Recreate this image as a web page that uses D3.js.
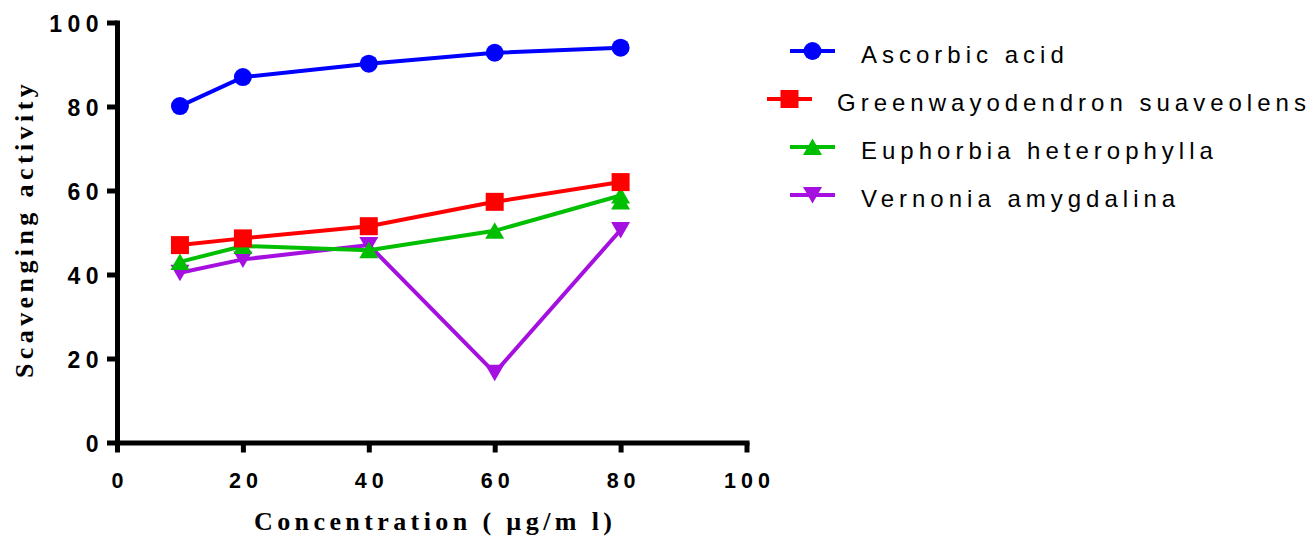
<!DOCTYPE html>
<html>
<head>
<meta charset="utf-8">
<script src="https://cdn.jsdelivr.net/npm/d3@7"></script>
<style>
  body { margin: 0; background: #fff; }
  svg { display: block; }
</style>
</head>
<body>
<svg></svg>
<script>
// data
var concentrations = [10, 20, 40, 60, 80];
var ascorbic  = [80.1, 87.0, 90.2, 92.8, 94.0];
var greenway  = [47.0, 48.6, 51.5, 57.3, 62.0];
var euphorbia = [43.0, 46.8, 45.8, 50.4, 58.8];
var vernonia  = [40.4, 43.6, 47.0, 16.6, 50.6];
// second euphorbia marker visible under the last point
var euphorbiaExtraX = [80];
var euphorbiaExtraY = [57.4];

var seriesNames = ["Ascorbic acid", "Greenwayodendron suaveolens", "Euphorbia heterophylla", "Vernonia amygdalina"];
var xTicks = [0, 20, 40, 60, 80, 100];
var yTicks = [0, 20, 40, 60, 80, 100];

var svgWidth = 1315, svgHeight = 537;
var svg = d3.select("svg").attr("width", svgWidth).attr("height", svgHeight);

var x = d3.scaleLinear().domain([0, 100]).range([117, 746.5]);
var y = d3.scaleLinear().domain([0, 100]).range([442.5, 22.5]);

// marker shapes, centred on their bounding box like the original
var triUp = { draw: function(ctx) { ctx.moveTo(0, -8.5); ctx.lineTo(9.5, 8); ctx.lineTo(-9.5, 8); ctx.closePath(); } };
var triDown = { draw: function(ctx) { ctx.moveTo(0, 8.5); ctx.lineTo(9.5, -8); ctx.lineTo(-9.5, -8); ctx.closePath(); } };
var square = { draw: function(ctx) { ctx.rect(-9, -9, 18, 18); } };
var circle = { draw: function(ctx) { ctx.moveTo(9, 0); ctx.arc(0, 0, 9, 0, 2 * Math.PI); } };

var series = [
  { name: seriesNames[0], values: ascorbic,  color: "#0000ff", shape: circle },
  { name: seriesNames[1], values: greenway,  color: "#ff0000", shape: square },
  { name: seriesNames[2], values: euphorbia, color: "#00bf00", shape: triUp },
  { name: seriesNames[3], values: vernonia,  color: "#a50fe0", shape: triDown }
];

// axes
var yAxis = d3.axisLeft(y).tickValues(yTicks).tickSize(10).tickSizeOuter(0).tickPadding(3);
var xAxis = d3.axisBottom(x).tickValues(xTicks).tickSize(10).tickSizeOuter(0).tickPadding(20);

var gy = svg.append("g").attr("transform", "translate(" + x(0) + ",0)").call(yAxis);
var gx = svg.append("g").attr("transform", "translate(0," + y(0) + ")").call(xAxis);

[gx, gy].forEach(function(g) {
  g.select(".domain").attr("stroke", "#000").attr("stroke-width", 5).attr("stroke-linecap", "square");
  g.selectAll(".tick line").attr("stroke", "#000").attr("stroke-width", 5);
  g.selectAll(".tick text")
    .attr("fill", "#000")
    .style("font-family", "'Liberation Sans', Arial, sans-serif")
    .style("font-weight", "bold");
});
gy.selectAll(".tick text").style("font-size", "23px").style("letter-spacing", "5.5px").attr("dy", "0.4em");
gx.selectAll(".tick text").style("font-size", "21.5px").style("letter-spacing", "5px").attr("dx", "2.5px");

// axis titles
svg.append("text")
  .attr("x", 254).attr("y", 530)
  .style("font-family", "'Liberation Serif', 'Times New Roman', serif")
  .style("font-weight", "bold").style("font-size", "26px").style("letter-spacing", "4.4px")
  .text("Concentration ( \u00b5g/m l)");

svg.append("text")
  .attr("transform", "translate(33,378) rotate(-90)")
  .style("font-family", "'Liberation Serif', 'Times New Roman', serif")
  .style("font-weight", "bold").style("font-size", "26px").style("letter-spacing", "4.4px")
  .text("Scavenging activity");

// lines and markers, first series drawn last so it sits on top
var line = d3.line()
  .x(function(d, i) { return x(concentrations[i]); })
  .y(function(d) { return y(d); });

var plot = svg.append("g");

plot.selectAll(".extra")
  .data(euphorbiaExtraY)
  .enter().append("path")
  .attr("class", "extra")
  .attr("d", d3.symbol().type(triUp))
  .attr("transform", function(d, i) { return "translate(" + x(euphorbiaExtraX[i]) + "," + y(d) + ")"; })
  .attr("fill", series[2].color);

series.slice().reverse().forEach(function(s) {
  var g = plot.append("g");
  g.append("path")
    .attr("d", line(s.values))
    .attr("fill", "none")
    .attr("stroke", s.color)
    .attr("stroke-width", 4);
  g.selectAll("path.pt")
    .data(s.values)
    .enter().append("path")
    .attr("class", "pt")
    .attr("d", d3.symbol().type(s.shape))
    .attr("transform", function(d, i) { return "translate(" + x(concentrations[i]) + "," + y(d) + ")"; })
    .attr("fill", s.color);
});

// legend
var legendRows = [
  { lineX: 790, textX: 861, base: 63 },
  { lineX: 767, textX: 837, base: 111 },
  { lineX: 790, textX: 861, base: 159 },
  { lineX: 790, textX: 861, base: 207 }
];

var legend = svg.append("g");
series.forEach(function(s, i) {
  var r = legendRows[i];
  var ly = r.base - 12;
  legend.append("line")
    .attr("x1", r.lineX).attr("x2", r.lineX + 45)
    .attr("y1", ly).attr("y2", ly)
    .attr("stroke", s.color).attr("stroke-width", 4);
  legend.append("path")
    .attr("d", d3.symbol().type(s.shape))
    .attr("transform", "translate(" + (r.lineX + 22.5) + "," + ly + ")")
    .attr("fill", s.color);
  legend.append("text")
    .attr("x", r.textX).attr("y", r.base)
    .style("font-family", "'Liberation Sans', Arial, sans-serif")
    .style("font-size", "24px").style("letter-spacing", "5px")
    .text(s.name);
});
</script>
</body>
</html>
